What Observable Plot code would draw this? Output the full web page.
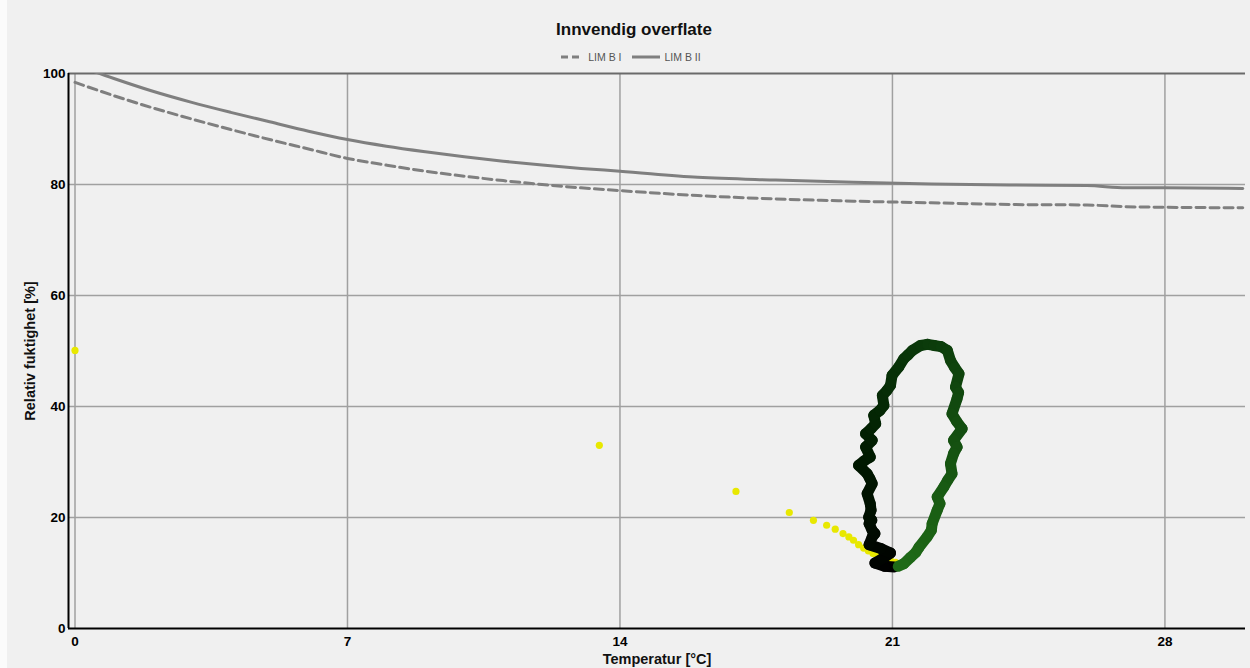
<!DOCTYPE html>
<html>
<head>
<meta charset="utf-8">
<script src="https://cdn.jsdelivr.net/npm/d3@7"></script>
<script src="https://cdn.jsdelivr.net/npm/@observablehq/plot@0.6"></script>
<style>
  html, body { margin: 0; padding: 0; }
  body { width: 1250px; height: 668px; overflow: hidden; background: #f0f0f0; font-family: "Liberation Sans", Arial, sans-serif; position: relative; }
  #edge { position: absolute; left: 0; top: 0; width: 7px; height: 668px; background: #fbfbfb; }
  #head { position: relative; height: 64px; }
  #title { position: absolute; top: 19px; left: 18px; width: 1232px; text-align: center; font-weight: bold; font-size: 17px; line-height: 22px; color: #111; }
  #legend { position: absolute; top: 51px; left: 12px; width: 1238px; text-align: center; font-size: 10.5px; line-height: 12px; color: #555; }
  #legend span.item { display: inline-flex; align-items: center; margin: 0 5px; }
  #legend svg { margin-right: 5px; }
  #chart svg { display: block; }
</style>
</head>
<body>
<div id="edge"></div>
<div id="head">
  <div id="title">Innvendig overflate</div>
  <div id="legend"></div>
</div>
<div id="chart"></div>
<script>
// ---- data ----
const xTicks = [0, 7, 14, 21, 28];
const yTicks = [0, 20, 40, 60, 80, 100];
const seriesNames = ["LIM B I", "LIM B II"];
const xTitle = "Temperatur [°C]";
const yTitle = "Relativ fuktighet [%]";

// LIM B I (dashed)
const limBI_T  = [0, 1, 2, 3, 4, 5, 6, 7, 8, 9, 10, 11, 12, 13, 14, 16, 18, 20, 22, 24, 26, 27, 28, 30];
const limBI_RH = [98.4, 96.0, 93.8, 91.8, 89.9, 88.1, 86.4, 84.7, 83.5, 82.4, 81.5, 80.7, 80.0, 79.4, 78.9, 78.0, 77.4, 77.0, 76.7, 76.4, 76.3, 76.0, 75.9, 75.8];

// LIM B II (solid)
const limBII_T  = [0, 1, 2, 3, 4, 5, 6, 7, 8, 9, 10, 11, 12, 13, 14, 16, 18, 20, 22, 24, 26, 27, 28, 30];
const limBII_RH = [101.6, 99.1, 96.8, 94.8, 93.0, 91.3, 89.6, 88.1, 86.9, 85.9, 85.0, 84.2, 83.5, 82.9, 82.4, 81.3, 80.8, 80.4, 80.1, 79.9, 79.8, 79.4, 79.4, 79.3];

// initial transient (yellow points)
const initT  = [0, 13.47, 16.98, 18.35, 18.97, 19.31, 19.53, 19.73, 19.88, 20.0, 20.13, 20.26, 20.38, 20.5, 20.62, 20.74, 20.86, 20.97, 21.08, 21.2];
const initRH = [50.1, 33.0, 24.7, 20.9, 19.5, 18.6, 17.9, 17.1, 16.5, 15.9, 15.1, 14.5, 14.0, 13.5, 13.1, 12.7, 12.4, 12.1, 11.9, 11.7];

// annual loop (black -> green in time order)
const loopT  = [21.05, 20.8, 20.55, 20.75, 20.95, 20.7, 20.4, 20.48, 20.55, 20.48, 20.4, 20.47, 20.39, 20.45, 20.43, 20.35, 20.48, 20.42, 20.35, 20.13, 20.27, 20.43, 20.31, 20.48, 20.31, 20.45, 20.57, 20.52, 20.68, 20.78, 20.74, 20.86, 20.95, 20.99, 21.16, 21.29, 21.4, 21.51, 21.72, 21.9, 22.07, 22.25, 22.41, 22.49, 22.6, 22.71, 22.62, 22.7, 22.66, 22.53, 22.65, 22.79, 22.57, 22.66, 22.57, 22.49, 22.53, 22.42, 22.32, 22.15, 22.22, 22.15, 22.02, 22.0, 21.89, 21.68, 21.6, 21.46, 21.29, 21.15];
const loopRH = [11.1, 11.2, 11.8, 12.6, 13.6, 14.4, 15.1, 16.5, 17.1, 17.65, 18.9, 19.5, 20.05, 21.3, 22.5, 24.3, 26.1, 27.0, 27.9, 29.4, 30.2, 30.9, 32.7, 33.9, 35.1, 36.0, 36.9, 38.4, 39.3, 40.2, 42.0, 42.9, 43.8, 45.6, 47.1, 48.6, 49.3, 50.1, 51.0, 51.2, 51.0, 50.8, 50.1, 48.3, 47.0, 45.9, 43.5, 42.5, 41.4, 38.7, 37.3, 36.0, 33.9, 32.7, 31.5, 29.7, 27.9, 26.7, 25.5, 23.7, 22.5, 21.3, 18.9, 17.7, 16.5, 14.6, 13.7, 12.8, 11.65, 11.2];

// ---- tables built from the arrays ----
const limBI = limBI_T.map((t, i) => ({T: t, RH: limBI_RH[i]}));
const limBII = limBII_T.map((t, i) => ({T: t, RH: limBII_RH[i]}));
const init = initT.map((t, i) => ({T: t, RH: initRH[i]}));
const loopN = loopT.length;
const loopSeg = loopT.slice(0, -1).map((t, i) => ({
  T1: t, RH1: loopRH[i], T2: loopT[i + 1], RH2: loopRH[i + 1], k: i / (loopN - 2)
}));

const xDomain = [-0.167, 30.07];
const yDomain = [0, 100];
const font = "'Liberation Sans', Arial, sans-serif";

const chart = Plot.plot({
  width: 1250,
  height: 604,
  marginTop: 9,
  marginBottom: 40,
  marginLeft: 68,
  marginRight: 5,
  style: {background: "transparent", fontFamily: font, fontSize: "13.5px", fontWeight: "bold", color: "#000", overflow: "visible"},
  x: {domain: xDomain, ticks: xTicks, tickSize: 0, tickPadding: 8, label: null},
  y: {domain: yDomain, ticks: yTicks, tickSize: 0, tickPadding: 3, label: null},
  color: {type: "linear", domain: [0, 0.3, 0.55, 1], range: ["#000000", "#001a00", "#0a380a", "#1f6a17"]},
  marks: [
    Plot.ruleX(xTicks, {stroke: "#a0a0a0", strokeWidth: 1.5}),
    Plot.ruleY(yTicks.filter(v => v > yDomain[0] && v < yDomain[1]), {stroke: "#a0a0a0", strokeWidth: 1.5}),
    Plot.ruleY([yDomain[1]], {stroke: "#6a6a6a", strokeWidth: 2}),
    Plot.line(limBI, {x: "T", y: "RH", stroke: "#7f7f7f", strokeWidth: 3, strokeDasharray: "9,5", clip: true, curve: "monotone-x"}),
    Plot.line(limBII, {x: "T", y: "RH", stroke: "#7f7f7f", strokeWidth: 3, clip: true, curve: "monotone-x"}),
    Plot.dot(init, {x: "T", y: "RH", r: 3.6, fill: "#e8e800", stroke: "none"}),
    Plot.link(loopSeg, {x1: "T1", y1: "RH1", x2: "T2", y2: "RH2", stroke: "k", strokeWidth: 11, strokeLinecap: "round"}),
    Plot.ruleX([xDomain[0]], {stroke: "#000", strokeWidth: 2}),
    Plot.ruleY([yDomain[0]], {stroke: "#000", strokeWidth: 2}),
    Plot.text([xTitle], {text: d => d, frameAnchor: "bottom", textAnchor: "middle", lineAnchor: "middle", dy: 31, fontSize: 14.5, fontWeight: "bold", fill: "#111"}),
    Plot.text([yTitle], {text: d => d, frameAnchor: "left", textAnchor: "middle", lineAnchor: "middle", dx: -38, rotate: -90, fontSize: 14.5, fontWeight: "bold", fill: "#111"})
  ]
});
document.getElementById("chart").appendChild(chart);

// legend
const legend = document.getElementById("legend");
seriesNames.forEach((name, i) => {
  const item = document.createElement("span");
  item.className = "item";
  const w = i === 0 ? 22 : 28;
  item.innerHTML = `<svg width="${w}" height="8"><line x1="0" x2="${w}" y1="4" y2="4" stroke="#7f7f7f" stroke-width="3" ${i === 0 ? 'stroke-dasharray="7,4"' : ''}/></svg>${name}`;
  legend.appendChild(item);
});
</script>
</body>
</html>
